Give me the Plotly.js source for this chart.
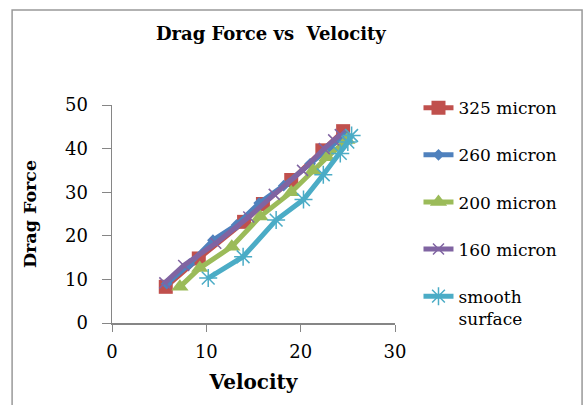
<!DOCTYPE html>
<html>
<head>
<meta charset="utf-8">
<script src="https://cdn.plot.ly/plotly-3.0.1.min.js"></script>
<style>html,body{margin:0;padding:0;background:#fff;}#chart{width:585px;height:405px;}</style>
</head>
<body>
<div id="chart"></div>
<script>
const seriesNames = ["325 micron", "260 micron", "200 micron", "160 micron", "smooth<br>surface"];
const v325 = [5.7, 9.2, 14.0, 16.0, 19.0, 22.3, 24.5];
const f325 = [8.3, 14.8, 23.2, 27.3, 32.8, 39.6, 44.0];
const v260 = [5.8, 8.2, 10.7, 13.2, 15.6, 18.2, 21.0, 23.0, 24.6];
const f260 = [9.0, 13.5, 19.0, 22.5, 27.5, 31.5, 36.5, 40.2, 43.0];
const v200 = [7.2, 9.3, 12.7, 15.7, 19.0, 21.3, 22.8, 24.9];
const f200 = [8.3, 12.6, 17.5, 24.4, 30.0, 35.0, 38.0, 42.0];
const v160 = [5.6, 7.6, 11.0, 14.5, 17.2, 20.2, 22.5, 23.5, 24.2];
const f160 = [9.2, 13.2, 18.3, 24.3, 29.5, 35.0, 40.0, 42.0, 43.2];
const vSmooth = [10.2, 13.9, 17.4, 20.3, 22.4, 24.2, 25.0, 25.4];
const fSmooth = [10.3, 15.2, 23.6, 28.3, 34.0, 38.9, 41.5, 43.0];

const colors = ["#C0504D", "#4F81BD", "#9BBB59", "#8064A2", "#4BACC6"];
const symbols = ["square", "diamond", "triangle-up", "x-thin", "asterisk"];
const sizes = [14, 9, 15, 11, 15];
const xs = [v325, v260, v200, v160, vSmooth];
const ys = [f325, f260, f200, f160, fSmooth];

const traces = xs.map((x, i) => ({
  x: x, y: ys[i], type: "scatter", mode: "lines+markers",
  name: seriesNames[i], legendgroup: "g" + i,
  line: {color: colors[i], width: 5},
  marker: {symbol: symbols[i], size: sizes[i], color: colors[i],
           line: {color: colors[i], width: (symbols[i] === "x-thin" || symbols[i] === "asterisk") ? 1.5 : 0}}
}));

const font = "DejaVu Serif, serif";
const layout = {
  width: 585, height: 405,
  margin: {l: 112, r: 190, t: 105, b: 82},
  paper_bgcolor: "#fff", plot_bgcolor: "#fff",
  font: {family: font, color: "#000", size: 16},
  title: {text: "<b>Drag Force vs  Velocity</b>", x: 0.463, xanchor: "center", y: 0.918, yanchor: "middle",
          font: {family: font, size: 18, color: "#000"}},
  xaxis: {range: [0, 30], dtick: 10, showgrid: false, zeroline: false, showline: true,
          linecolor: "#868686", linewidth: 1.5, ticks: "outside", ticklen: 7, tickcolor: "#868686",
          ticklabelstandoff: 5,
          tickfont: {family: font, size: 18}, fixedrange: true,
          title: {text: "<b>Velocity</b>", font: {family: font, size: 20}, standoff: 14}},
  yaxis: {range: [0, 50], dtick: 10, showgrid: false, zeroline: false, showline: true,
          linecolor: "#868686", linewidth: 1.5, ticks: "outside", ticklen: 9, tickcolor: "#868686",
          ticklabelstandoff: 10,
          tickfont: {family: font, size: 18}, fixedrange: true,
          title: {text: "<b>Drag Force</b>", font: {family: font, size: 17.5}, standoff: 24}},
  legend: {x: 1.083, xanchor: "left", y: 1.068, yanchor: "top", tracegroupgap: 22, valign: "top",
           maxheight: 400,
           font: {family: font, size: 17, color: "#000"}, bgcolor: "rgba(0,0,0,0)"},
  showlegend: true,
  shapes: [{type: "rect", xref: "paper", yref: "paper", x0: -0.353, x1: 1.661, y0: -0.45, y1: 1.436,
            line: {color: "#999", width: 1.5}, fillcolor: "rgba(0,0,0,0)", layer: "below"}]
};

Plotly.newPlot("chart", traces, layout, {displayModeBar: false, staticPlot: true});
</script>
</body>
</html>
